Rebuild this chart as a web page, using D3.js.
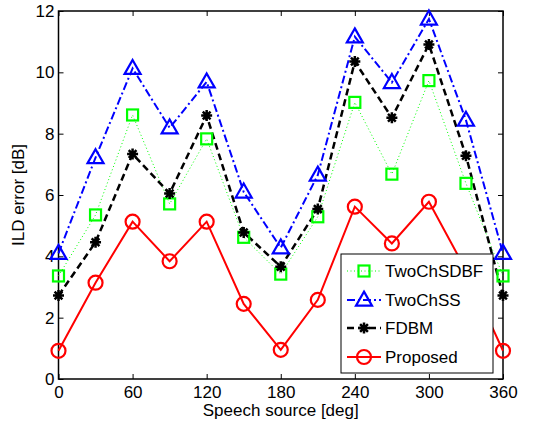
<!DOCTYPE html>
<html><head><meta charset="utf-8">
<script src="https://cdn.jsdelivr.net/npm/d3@7"></script>
<style>
body{margin:0;background:#fff;}
svg{display:block;font-family:"Liberation Sans",Arial,Helvetica,sans-serif;}
</style></head>
<body><svg id="c" width="548" height="425"></svg>
<script>
const angles = [0,30,60,90,120,150,180,210,240,270,300,330,360];
const twoChSDBF = [3.36,5.35,8.61,5.71,7.83,4.62,3.42,5.29,9.02,6.68,9.73,6.38,3.36];
const twoChSS = [4.1,7.22,10.13,8.19,9.69,6.1,4.28,6.65,11.16,9.67,11.74,8.44,4.1];
const fdbm = [2.72,4.46,7.34,6.05,8.59,4.78,3.66,5.54,10.35,8.52,10.91,7.28,2.72];
const proposed = [0.92,3.14,5.13,3.84,5.13,2.45,0.95,2.58,5.62,4.42,5.78,3.55,0.92];
const xTicks = [0,60,120,180,240,300,360];
const yTicks = [0,2,4,6,8,10,12];
const seriesNames = ["TwoChSDBF","TwoChSS","FDBM","Proposed"];

const svg = d3.select("#c");
const L=58.5, R=503, T=11, B=379;
const FS=17;
const x = d3.scaleLinear().domain([0,360]).range([L,R]);
const y = d3.scaleLinear().domain([0,12]).range([B,T]);

const series = [
  {name:seriesNames[0], vals:twoChSDBF, color:"#00ff00", width:1, dash:"1,2.5", marker:"square"},
  {name:seriesNames[1], vals:twoChSS, color:"#0000ff", width:2, dash:"8,3,2,3", marker:"triangle"},
  {name:seriesNames[2], vals:fdbm, color:"#000000", width:2.5, dash:"7,4", marker:"star"},
  {name:seriesNames[3], vals:proposed, color:"#ff0000", width:2, dash:null, marker:"circle"}
];

function drawMarker(g, type, cx, cy, color){
  if(type==="square"){
    g.append("rect").attr("x",cx-5.5).attr("y",cy-5.5).attr("width",11).attr("height",11)
     .attr("fill","none").attr("stroke",color).attr("stroke-width",2.2);
  } else if(type==="triangle"){
    const h=14, w=16;
    g.append("path").attr("d",`M${cx},${cy-h*0.6}L${cx+w/2},${cy+h*0.4}L${cx-w/2},${cy+h*0.4}Z`)
     .attr("fill","none").attr("stroke",color).attr("stroke-width",2.2);
  } else if(type==="circle"){
    g.append("circle").attr("cx",cx).attr("cy",cy).attr("r",7)
     .attr("fill","none").attr("stroke",color).attr("stroke-width",2.2);
  } else if(type==="star"){
    const r=5.5;
    let d="";
    for(let i=0;i<4;i++){
      const a=i*Math.PI/4;
      d+=`M${cx+r*Math.cos(a)},${cy+r*Math.sin(a)}L${cx-r*Math.cos(a)},${cy-r*Math.sin(a)}`;
    }
    g.append("path").attr("d",d).attr("stroke",color).attr("stroke-width",2.5).attr("fill","none");
  }
}

// frame
svg.append("rect").attr("x",L).attr("y",T).attr("width",R-L).attr("height",B-T)
  .attr("fill","#fff").attr("stroke","#000").attr("stroke-width",1.5);

// axes
const xAx = svg.append("g").attr("transform",`translate(0,${B})`)
  .call(d3.axisBottom(x).tickValues(xTicks).tickSizeInner(-5).tickSizeOuter(0).tickPadding(7));
const xAxT = svg.append("g").attr("transform",`translate(0,${T})`)
  .call(d3.axisTop(x).tickValues(xTicks).tickSizeInner(-5).tickSizeOuter(0).tickFormat(""));
const yAx = svg.append("g").attr("transform",`translate(${L},0)`)
  .call(d3.axisLeft(y).tickValues(yTicks).tickSizeInner(-5).tickSizeOuter(0).tickPadding(4));
const yAxR = svg.append("g").attr("transform",`translate(${R},0)`)
  .call(d3.axisRight(y).tickValues(yTicks).tickSizeInner(-5).tickSizeOuter(0).tickFormat(""));
[xAx,xAxT,yAx,yAxR].forEach(a=>{
  a.select(".domain").remove();
  a.selectAll("line").attr("stroke","#000").attr("stroke-width",1);
  a.selectAll("text").attr("font-size",FS).attr("fill","#000").attr("font-family","Liberation Sans,Arial,sans-serif");
});

// lines
const line = d3.line().x((d,i)=>x(angles[i])).y(d=>y(d));
series.forEach(s=>{
  const p = svg.append("path").datum(s.vals).attr("d",line)
    .attr("fill","none").attr("stroke",s.color).attr("stroke-width",s.width);
  if(s.dash) p.attr("stroke-dasharray",s.dash);
});
series.forEach(s=>{
  const g = svg.append("g");
  s.vals.forEach((v,i)=>drawMarker(g,s.marker,x(angles[i]),y(v),s.color));
});

// axis labels
svg.append("text").attr("x",(L+R)/2).attr("y",416).attr("text-anchor","middle")
  .attr("font-size",FS).text("Speech source [deg]");
svg.append("text").attr("transform",`translate(24,${(T+B)/2}) rotate(-90)`).attr("text-anchor","middle")
  .attr("font-size",FS).text("ILD error [dB]");

// legend
const lg = svg.append("g");
lg.append("rect").attr("x",341).attr("y",254).attr("width",152).attr("height",119)
  .attr("fill","#fff").attr("stroke","#000").attr("stroke-width",1);
const ly=[271,300,328,357];
series.forEach((s,i)=>{
  const l = lg.append("line").attr("x1",347).attr("x2",381).attr("y1",ly[i]).attr("y2",ly[i])
    .attr("stroke",s.color).attr("stroke-width",s.width);
  if(s.dash) l.attr("stroke-dasharray",s.dash);
  drawMarker(lg,s.marker,364,ly[i],s.color);
  lg.append("text").attr("x",385).attr("y",ly[i]+6).attr("font-size",FS).text(s.name);
});
</script></body></html>
